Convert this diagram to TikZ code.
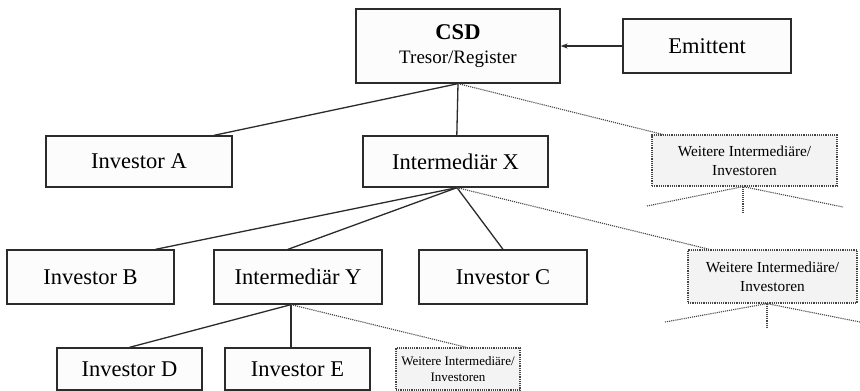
\documentclass[tikz,border=0pt]{standalone}
\usepackage{fontspec}
\setmainfont{Liberation Serif}
\usetikzlibrary{calc,arrows.meta}
\definecolor{edge}{HTML}{2B2B2B}
\definecolor{dotc}{HTML}{444444}
\definecolor{boxfill}{HTML}{FCFCFC}
\definecolor{morefill}{HTML}{F3F3F3}
\begin{document}
\begin{tikzpicture}[x=1pt,y=-1pt,
  box/.style={draw=edge,line width=1.3pt,fill=boxfill,inner sep=0pt,
    font=\fontsize{22.5}{27}\selectfont,align=center},
  morebox/.style={draw=dotc,densely dotted,line width=1.2pt,fill=morefill,inner sep=0pt,
    font=\fontsize{15.3}{19}\selectfont,align=center},
  link/.style={draw=edge,line width=1.3pt},
  morelink/.style={draw=dotc,densely dotted,line width=1.1pt},
]
\useasboundingbox (0,0) rectangle (860,391);
\fill[white] (0,0) rectangle (860,391);
% nodes
\node[box,minimum width=204pt,minimum height=74pt] (csd) at (458,46)
  {\textbf{CSD}\\[-3pt]{\fontsize{19}{22}\selectfont Tresor/Register}};
\node[box,minimum width=168pt,minimum height=54pt] (emit) at (707,46) {Emittent};
\node[box,minimum width=186pt,minimum height=51pt] (invA) at (139,161.5) {Investor A};
\node[box,minimum width=185pt,minimum height=51pt] (intX) at (455.5,161.5) {Intermediär X};
\node[morebox,minimum width=185pt,minimum height=51pt] (more1) at (744.5,160.5) {Weitere Intermediäre/\\Investoren};
\node[box,minimum width=167pt,minimum height=54pt] (invB) at (90.5,277) {Investor B};
\node[box,minimum width=168pt,minimum height=54pt] (intY) at (298,277) {Intermediär Y};
\node[box,minimum width=168pt,minimum height=54pt] (invC) at (503,277) {Investor C};
\node[morebox,minimum width=169pt,minimum height=53pt] (more2) at (772.5,276.5) {Weitere Intermediäre/\\Investoren};
\node[box,minimum width=145pt,minimum height=42pt] (invD) at (129.5,369) {Investor D};
\node[box,minimum width=145pt,minimum height=42pt] (invE) at (297.5,369) {Investor E};
\node[morebox,minimum width=124pt,minimum height=42pt,font=\fontsize{13}{16}\selectfont] (more3) at (458,369) {Weitere Intermediäre/\\Investoren};
% free ends of the open branches
\coordinate (m1a) at ($(more1.south)+(-1.5,0)$);
\coordinate (m1l) at (647,206);
\coordinate (m1r) at (843,207);
\coordinate (m1d) at (743,212);
\coordinate (m2a) at ($(more2.south)+(-5.5,0)$);
\coordinate (m2l) at (665,322);
\coordinate (m2r) at (860,322);
\coordinate (m2d) at (767,327);
% connectors
\draw[link,-{Stealth[length=7pt,width=5pt]}] (emit.west) -- (csd.east);
\draw[link] (csd.south) -- ($(invA.north west)!0.9!(invA.north east)$);
\draw[link] (csd.south) -- ($(intX.north west)!0.507!(intX.north east)$);
\draw[morelink] (csd.south) -- ($(more1.north west)!0.06!(more1.north east)$);
\draw[link] ($(intX.south)+(1.5,0)$) -- ($(invB.north west)!0.886!(invB.north east)$);
\draw[link] ($(intX.south)+(1.5,0)$) -- ($(intY.north west)!0.44!(intY.north east)$);
\draw[link] ($(intX.south)+(1.5,0)$) -- (invC.north);
\draw[morelink] ($(intX.south)+(1.5,0)$) -- ($(more2.north west)!0.13!(more2.north east)$);
\draw[link] ($(intY.south)+(-7,0)$) -- (invD.north);
\draw[link] ($(intY.south)+(-7,0)$) -- ($(invE.north)+(-6.5,0)$);
\draw[morelink] ($(intY.south)+(-7,0)$) -- ($(more3.north west)!0.57!(more3.north east)$);
\draw[morelink] (m1l) -- (m1a) -- (m1r);
\draw[morelink] (m1a) -- (m1d);
\draw[morelink] (m2l) -- (m2a) -- (m2r);
\draw[morelink] (m2a) -- (m2d);
\end{tikzpicture}
\end{document}
